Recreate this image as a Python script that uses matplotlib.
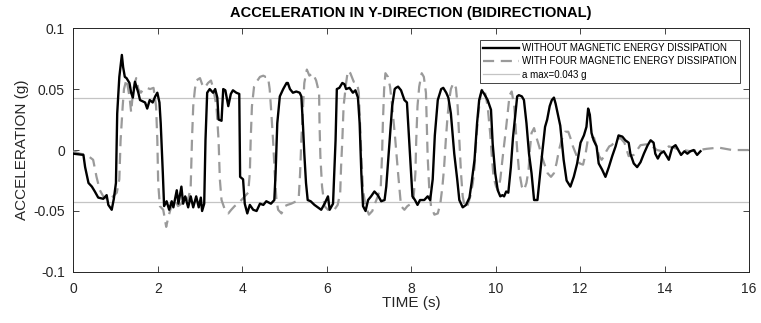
import matplotlib
matplotlib.use("Agg")
import matplotlib.pyplot as plt
import numpy as np

plt.rcParams['font.family'] = ['Liberation Sans', 'DejaVu Sans']

title = "ACCELERATION IN Y-DIRECTION (BIDIRECTIONAL)"
xlabel = "TIME (s)"
ylabel = "ACCELERATION (g)"
labels = ["WITHOUT MAGNETIC ENERGY DISSIPATION",
          "WITH FOUR MAGNETIC ENERGY DISSIPATION",
          "a max=0.043 g"]
a_max = 0.043

xticks = [0, 2, 4, 6, 8, 10, 12, 14, 16]
yticks = [-0.1, -0.05, 0, 0.05, 0.1]
yticklabels = ["-0.1", "-0.05", "0", "0.05", "0.1"]

t_without = [0.00, 0.24, 0.28, 0.36, 0.44, 0.51, 0.59, 0.71, 0.79, 0.83, 0.91, 0.96, 1.01, 1.04, 1.09,
             1.15, 1.18, 1.22, 1.26, 1.33, 1.37, 1.41, 1.46, 1.54, 1.58, 1.70, 1.75, 1.81, 1.88, 1.94,
             1.99, 2.04, 2.07, 2.12, 2.15, 2.21, 2.27, 2.33, 2.37, 2.45, 2.49, 2.56, 2.60, 2.65, 2.72,
             2.78, 2.84, 2.91, 2.97, 3.02, 3.05, 3.10, 3.13, 3.17, 3.23, 3.31, 3.36, 3.41, 3.44, 3.51,
             3.55, 3.60, 3.67, 3.73, 3.78, 3.86, 3.93, 3.95, 4.02, 4.06, 4.12, 4.18, 4.26, 4.34, 4.42,
             4.50, 4.57, 4.68, 4.76, 4.79, 4.83, 4.89, 4.97, 5.05, 5.08, 5.13, 5.20, 5.28, 5.36, 5.40,
             5.44, 5.47, 5.51, 5.55, 5.62, 5.71, 5.79, 5.87, 5.95, 6.03, 6.07, 6.15, 6.21, 6.24, 6.30,
             6.37, 6.42, 6.46, 6.54, 6.62, 6.68, 6.74, 6.78, 6.82, 6.86, 6.92, 6.98, 7.05, 7.13, 7.21,
             7.29, 7.37, 7.41, 7.49, 7.55, 7.61, 7.64, 7.69, 7.76, 7.84, 7.90, 7.96, 8.03, 8.09, 8.15,
             8.21, 8.31, 8.39, 8.45, 8.51, 8.56, 8.63, 8.71, 8.76, 8.83, 8.88, 8.94, 9.02, 9.09, 9.14,
             9.22, 9.30, 9.38, 9.43, 9.50, 9.56, 9.61, 9.67, 9.73, 9.81, 9.89, 9.93, 9.99, 10.05, 10.11,
             10.16, 10.20, 10.25, 10.30, 10.36, 10.41, 10.47, 10.51, 10.55, 10.62, 10.67, 10.73, 10.79,
             10.85, 10.91, 10.99, 11.04, 11.11, 11.17, 11.22, 11.28, 11.33, 11.38, 11.42, 11.47, 11.53,
             11.61, 11.68, 11.77, 11.85, 11.93, 12.01, 12.09, 12.15, 12.19, 12.23, 12.27, 12.32, 12.39,
             12.44, 12.52, 12.60, 12.68, 12.76, 12.84, 12.91, 13.00, 13.07, 13.15, 13.19, 13.27, 13.35,
             13.43, 13.51, 13.60, 13.67, 13.74, 13.78, 13.84, 13.90, 13.98, 14.05, 14.10, 14.18, 14.26,
             14.34, 14.39, 14.47, 14.54, 14.61, 14.69, 14.77, 14.85]
a_without = [-0.003, -0.004, -0.014, -0.027, -0.030, -0.034, -0.039, -0.040, -0.037, -0.045, -0.049, -0.040,
             -0.027, 0.030, 0.060, 0.078, 0.068, 0.060, 0.059, 0.055, 0.047, 0.043, 0.056, 0.047, 0.041,
             0.039, 0.034, 0.041, 0.039, 0.044, 0.047, 0.039, 0.022, -0.019, -0.046, -0.042, -0.049,
             -0.042, -0.047, -0.033, -0.044, -0.030, -0.044, -0.038, -0.047, -0.038, -0.047, -0.038,
             -0.047, -0.039, -0.050, -0.044, 0.008, 0.047, 0.050, 0.047, 0.050, 0.043, 0.025, 0.024,
             0.050, 0.049, 0.036, 0.046, 0.049, 0.047, 0.046, -0.022, -0.024, -0.044, -0.052, -0.045,
             -0.049, -0.050, -0.044, -0.045, -0.042, -0.044, -0.041, -0.019, 0.022, 0.044, 0.050, 0.055,
             0.055, 0.050, 0.047, 0.048, 0.047, 0.044, 0.019, -0.003, -0.027, -0.041, -0.042, -0.045,
             -0.047, -0.049, -0.044, -0.038, -0.049, -0.044, 0.008, 0.050, 0.051, 0.055, 0.054, 0.050,
             0.051, 0.047, 0.049, 0.043, 0.022, -0.019, -0.046, -0.050, -0.041, -0.038, -0.034, -0.037,
             -0.042, -0.041, -0.030, 0.008, 0.036, 0.050, 0.051, 0.052, 0.049, 0.041, 0.039, 0.003,
             -0.038, -0.041, -0.045, -0.041, -0.041, -0.038, -0.041, -0.024, 0.012, 0.041, 0.050, 0.051,
             0.047, 0.043, 0.030, -0.003, -0.024, -0.041, -0.047, -0.045, -0.039, -0.027, -0.008, 0.022,
             0.041, 0.049, 0.046, 0.041, 0.033, 0.005, -0.019, -0.033, -0.038, -0.037, -0.038, -0.034,
             -0.035, -0.014, 0.010, 0.030, 0.044, 0.045, 0.044, 0.041, 0.022, -0.003, -0.019, -0.041,
             -0.041, -0.024, 0.000, 0.019, 0.025, 0.036, 0.041, 0.043, 0.038, 0.030, 0.020, -0.008,
             -0.025, -0.030, -0.022, -0.011, 0.006, 0.012, 0.019, 0.034, 0.029, 0.014, 0.008, 0.003,
             -0.011, -0.016, -0.022, -0.014, -0.005, 0.003, 0.012, 0.011, 0.008, 0.006, -0.003, -0.011,
             -0.014, -0.010, -0.003, 0.004, 0.008, 0.006, -0.003, -0.007, -0.003, -0.001, -0.005, -0.008,
             0.002, 0.004, -0.001, -0.004, -0.001, -0.003, -0.001, 0.000, -0.004, -0.001]

t_with = [0.00, 0.16, 0.32, 0.47, 0.55, 0.63, 0.71, 0.83, 0.91, 1.03, 1.09, 1.12, 1.17, 1.20, 1.26,
          1.33, 1.37, 1.42, 1.49, 1.54, 1.60, 1.66, 1.74, 1.82, 1.90, 1.96, 1.99, 2.01, 2.05, 2.13,
          2.20, 2.25, 2.33, 2.41, 2.48, 2.56, 2.64, 2.72, 2.78, 2.81, 2.84, 2.88, 2.91, 3.00, 3.05,
          3.11, 3.19, 3.26, 3.31, 3.39, 3.44, 3.47, 3.51, 3.59, 3.67, 3.74, 3.82, 3.90, 3.98, 4.06,
          4.14, 4.18, 4.20, 4.23, 4.28, 4.34, 4.42, 4.50, 4.55, 4.61, 4.65, 4.69, 4.73, 4.77, 4.81,
          4.85, 4.93, 5.01, 5.07, 5.16, 5.28, 5.34, 5.37, 5.40, 5.44, 5.47, 5.53, 5.59, 5.67, 5.75,
          5.82, 5.83, 5.85, 5.89, 5.95, 6.03, 6.11, 6.18, 6.26, 6.32, 6.34, 6.37, 6.40, 6.46, 6.50,
          6.56, 6.64, 6.72, 6.76, 6.79, 6.82, 6.86, 6.92, 7.00, 7.08, 7.13, 7.21, 7.28, 7.31, 7.33,
          7.36, 7.39, 7.45, 7.50, 7.55, 7.62, 7.69, 7.76, 7.84, 7.91, 8.00, 8.06, 8.10, 8.12, 8.15,
          8.19, 8.25, 8.30, 8.35, 8.37, 8.39, 8.43, 8.47, 8.55, 8.63, 8.69, 8.74, 8.78, 8.82, 8.86,
          8.90, 8.94, 9.00, 9.06, 9.10, 9.14, 9.18, 9.22, 9.27, 9.34, 9.40, 9.46, 9.50, 9.54, 9.59,
          9.64, 9.69, 9.75, 9.81, 9.87, 9.91, 9.95, 10.01, 10.06, 10.11, 10.17, 10.25, 10.33, 10.38,
          10.44, 10.51, 10.55, 10.62, 10.67, 10.73, 10.78, 10.81, 10.85, 10.91, 10.96, 11.03, 11.09,
          11.15, 11.23, 11.31, 11.38, 11.44, 11.50, 11.56, 11.64, 11.72, 11.78, 11.83, 11.91, 11.99,
          12.07, 12.13, 12.18, 12.25, 12.33, 12.39, 12.45, 12.51, 12.57, 12.62, 12.69, 12.75, 12.85,
          12.95, 13.05, 13.15, 13.27, 13.43, 13.63, 13.82, 13.95, 14.10, 14.30, 14.61, 15.00, 15.28,
          15.60, 16.00]
a_with = [-0.001, -0.003, -0.004, -0.008, -0.022, -0.033, -0.038, -0.041, -0.039, -0.035, -0.024, 0.008,
          0.036, 0.050, 0.058, 0.044, 0.031, 0.050, 0.059, 0.050, 0.047, 0.050, 0.051, 0.050, 0.051,
          0.036, 0.008, -0.027, -0.046, -0.049, -0.063, -0.055, -0.045, -0.041, -0.046, -0.044, -0.038,
          -0.041, -0.030, 0.008, 0.036, 0.050, 0.057, 0.059, 0.054, 0.051, 0.055, 0.057, 0.051, 0.036,
          0.008, -0.024, -0.041, -0.049, -0.052, -0.049, -0.046, -0.044, -0.041, -0.038, -0.035, -0.019,
          0.008, 0.036, 0.052, 0.056, 0.060, 0.061, 0.060, 0.060, 0.050, 0.030, 0.008, -0.019, -0.041,
          -0.049, -0.052, -0.046, -0.045, -0.044, -0.042, -0.038, -0.019, 0.008, 0.036, 0.055, 0.066,
          0.061, 0.063, 0.057, 0.047, 0.022, -0.005, -0.030, -0.046, -0.049, -0.050, -0.049, -0.045,
          -0.035, -0.014, 0.008, 0.036, 0.055, 0.065, 0.063, 0.056, 0.055, 0.047, 0.022, -0.005, -0.033,
          -0.046, -0.053, -0.050, -0.045, -0.038, -0.030, -0.005, 0.022, 0.050, 0.063, 0.060, 0.052,
          0.036, 0.010, -0.019, -0.046, -0.049, -0.046, -0.044, -0.038, -0.019, 0.008, 0.036, 0.052,
          0.063, 0.060, 0.047, 0.022, -0.005, -0.033, -0.046, -0.053, -0.052, -0.044, -0.030, -0.014,
          0.008, 0.027, 0.041, 0.050, 0.055, 0.051, 0.036, 0.008, -0.019, -0.038, -0.047, -0.045, -0.038,
          -0.027, -0.014, 0.008, 0.030, 0.044, 0.051, 0.047, 0.036, 0.014, -0.005, -0.022, -0.030, -0.033,
          -0.024, -0.005, 0.019, 0.045, 0.048, 0.036, 0.000, -0.016, -0.030, -0.033, -0.027, -0.016,
          0.000, 0.014, 0.018, 0.011, 0.003, -0.005, -0.011, -0.019, -0.022, -0.019, -0.011, 0.000, 0.008,
          0.015, 0.015, 0.009, 0.003, -0.004, -0.011, -0.012, -0.003, 0.008, 0.011, 0.010, 0.003, -0.005,
          -0.008, -0.005, -0.001, 0.003, 0.004, 0.008, 0.010, 0.006, -0.005, -0.004, 0.004, 0.005, 0.000,
          -0.001, 0.003, 0.001, -0.001, 0.001, 0.002, 0.000, 0.000]

fig = plt.figure(figsize=(7.61, 3.23), dpi=100)
ax = fig.add_axes([0.0963, 0.158, 0.888, 0.755])

ax.plot(t_without, a_without, color='black', lw=1.7, label=labels[0], zorder=4)
ax.plot(t_with, a_with, color='#9a9a9a', lw=1.6, dashes=(5, 3), label=labels[1], zorder=3)
ax.axhline(a_max, color='#c4c4c4', lw=0.9, label=labels[2], zorder=2)
ax.axhline(-a_max, color='#c4c4c4', lw=0.9, zorder=2)

ax.set_xlim(0, 16)
ax.set_ylim(-0.1, 0.1)
ax.set_xticks(xticks)
ax.set_xticklabels([str(v) for v in xticks])
ax.set_yticks(yticks)
ax.set_yticklabels(yticklabels)
ax.tick_params(direction='in', top=True, right=True, length=4, width=0.6,
               labelsize=10, colors='#262626', labelcolor='#262626')
ax.tick_params(axis='x', pad=7)
ax.tick_params(axis='y', pad=6)
for s in ax.spines.values():
    s.set_linewidth(0.7)
    s.set_color('#262626')

ax.set_xlabel(xlabel, fontsize=11, color='#262626', labelpad=0)
ax.set_ylabel(ylabel, fontsize=11, color='#262626', labelpad=3)
ax.set_title(title, fontsize=10.5, fontweight='bold', pad=8)

leg = ax.legend(loc='upper right', bbox_to_anchor=(0.9867, 0.9508), borderaxespad=0,
                fontsize=7, handlelength=3.8, handletextpad=0.3, labelspacing=0.35,
                borderpad=0.3, fancybox=False, framealpha=1)
leg.get_frame().set_edgecolor('#262626')
leg.get_frame().set_linewidth(0.6)

fig.savefig('out.png', dpi=100)
